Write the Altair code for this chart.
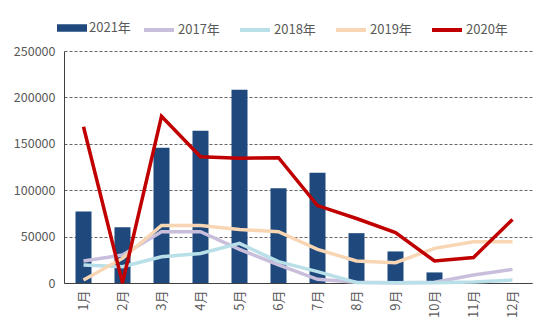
import altair as alt
import pandas as pd

months = ["1月", "2月", "3月", "4月", "5月", "6月", "7月", "8月", "9月", "10月", "11月", "12月"]
bar_series = "2021年"
bar_values = [77000, 60200, 145800, 164000, 208200, 102100, 118900, 53700, 34000, 11400, None, None]

line_series = ["2017年", "2018年", "2019年", "2020年"]
v2017 = [23700, 30100, 55200, 55200, 36300, 19500, 4000, 800, 300, 800, 8600, 14700]
v2018 = [19400, 17500, 28300, 31900, 42700, 23000, 12200, 500, 300, 300, 1200, 3200]
v2019 = [3200, 26500, 62000, 62000, 57700, 55200, 36200, 23700, 21900, 37300, 44400, 44400]
v2020 = [168400, 0, 179600, 136100, 134400, 135000, 83400, 69500, 54400, 23700, 27500, 68500]
line_values = [v2017, v2018, v2019, v2020]
line_colors = ["#c9bfdc", "#b9dfe8", "#f8d6b3", "#c00000"]
bar_color = "#1f497d"

bar_df = pd.DataFrame({"month": months, "value": bar_values, "series": bar_series})
rows = []
for s, vals in zip(line_series, line_values):
    for m, v in zip(months, vals):
        rows.append({"month": m, "value": v, "series": s})
line_df = pd.DataFrame(rows)

FONT = "Noto Sans CJK SC"
x_enc = alt.X("month:N", sort=months, title=None,
              scale=alt.Scale(paddingInner=0, paddingOuter=0),
              axis=alt.Axis(labelAngle=270, ticks=False, labelPadding=7,
                            domainColor="#404040", labelColor="#595959",
                            labelFontSize=13, labelFont=FONT, grid=False))
y_enc = alt.Y("value:Q", title=None,
              scale=alt.Scale(domain=[0, 250000], nice=False),
              axis=alt.Axis(values=[0, 50000, 100000, 150000, 200000, 250000],
                            format="d", ticks=False, labelPadding=9,
                            domainColor="#404040", labelColor="#595959",
                            labelFontSize=12.5, labelFont=FONT,
                            grid=True, gridDash=[3, 2], gridColor="#666666",
                            gridWidth=1))

bars = alt.Chart(bar_df).mark_bar(size=16, color=bar_color).encode(
    x=x_enc, y=y_enc,
    color=alt.Color("series:N",
                    scale=alt.Scale(domain=[bar_series], range=[bar_color]),
                    legend=alt.Legend(title=None, orient="none", legendX=-7, legendY=-38,
                                      direction="horizontal",
                                      symbolType="M-1,-0.25H1V0.25H-1Z", symbolSize=900,
                                      symbolStrokeWidth=0,
                                      labelFontSize=13, labelFont=FONT, labelColor="#595959",
                                      labelOffset=2)),
)

lines = alt.Chart(line_df).mark_line(strokeWidth=3.5, strokeJoin="miter").encode(
    x=x_enc, y=y_enc,
    color=alt.Color("series:N",
                    scale=alt.Scale(domain=line_series, range=line_colors),
                    legend=alt.Legend(title=None, orient="none", legendX=78, legendY=-38,
                                      direction="horizontal",
                                      symbolType="stroke", symbolSize=900,
                                      symbolStrokeWidth=4,
                                      columnPadding=12,
                                      labelFontSize=13, labelFont=FONT, labelColor="#595959",
                                      labelOffset=2)),
)

chart = alt.layer(bars, lines).resolve_scale(color="independent").resolve_legend(
    color="independent"
).properties(
    width=468, height=232,
    autosize=alt.AutoSizeParams(type="none"),
    padding={"left": 64, "top": 51, "right": 18, "bottom": 47},
    background="white",
).configure_view(stroke=None)

chart.save("out.html", embed_options={"renderer": "svg", "actions": False})
